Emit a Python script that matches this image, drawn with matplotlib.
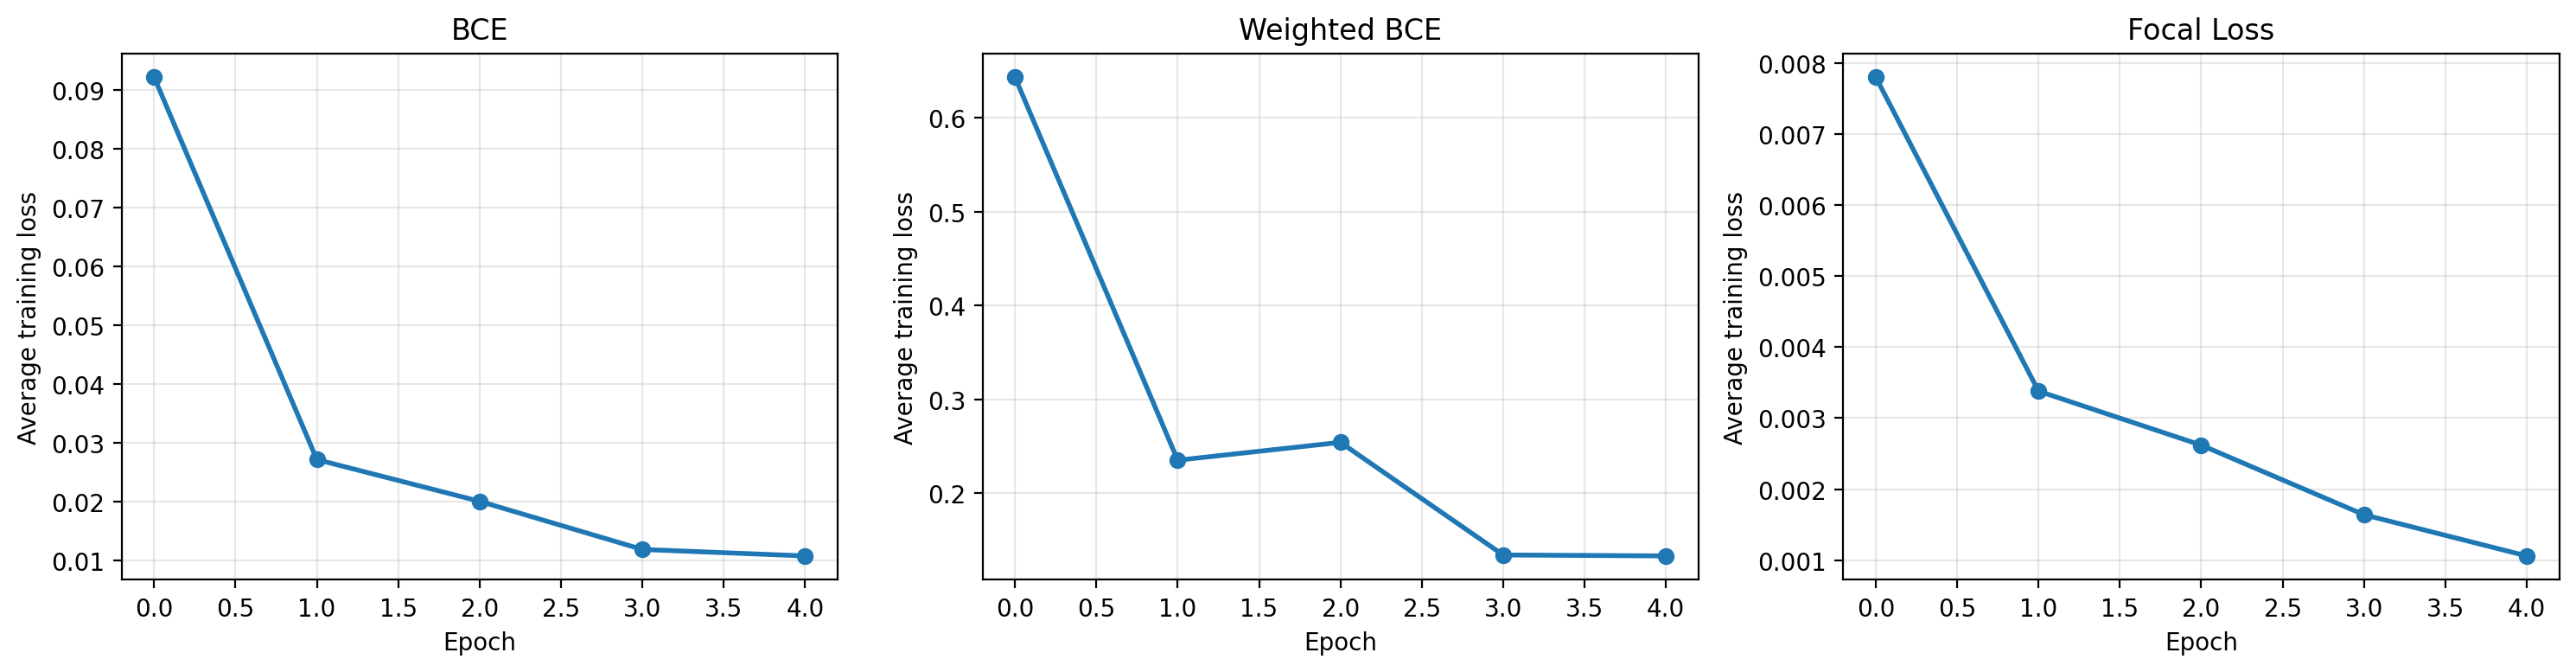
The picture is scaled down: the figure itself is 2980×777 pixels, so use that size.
import matplotlib
matplotlib.use("Agg")
import matplotlib.pyplot as plt

# average training loss per epoch for each loss function
epochs = [0, 1, 2, 3, 4]
bce_loss = [0.0922, 0.0271, 0.0200, 0.0118, 0.0107]
weighted_bce_loss = [0.643, 0.235, 0.254, 0.134, 0.133]
focal_loss = [0.00780, 0.00338, 0.00262, 0.00164, 0.00106]

titles = ["BCE", "Weighted BCE", "Focal Loss"]
losses = [bce_loss, weighted_bce_loss, focal_loss]

fig, axes = plt.subplots(1, 3, figsize=(15, 4))
for ax, title, loss in zip(axes, titles, losses):
    ax.plot(epochs, loss, marker="o", linewidth=2)
    ax.set_title(title)
    ax.set_xlabel("Epoch")
    ax.set_ylabel("Average training loss")
    ax.grid(True, alpha=0.3)

plt.tight_layout()
plt.savefig("out.png", dpi=200, bbox_inches="tight")
